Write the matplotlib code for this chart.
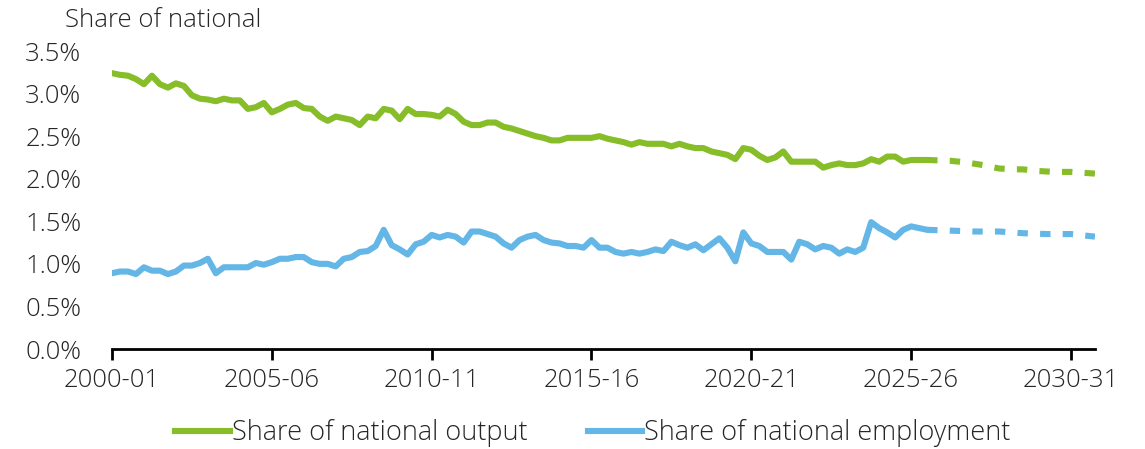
import matplotlib
matplotlib.use('Agg')
import matplotlib.pyplot as plt
from matplotlib.lines import Line2D

plt.rcParams['font.family'] = ['Open Sans', 'DejaVu Sans']
plt.rcParams['font.weight'] = 'light'

# Quarterly observations, index 0 = 2000-01 Q1
output_share = [
    3.24, 3.22, 3.21, 3.17, 3.11, 3.21, 3.11, 3.07, 3.12, 3.09,
    2.98, 2.94, 2.93, 2.91, 2.94, 2.92, 2.92, 2.82, 2.84, 2.89,
    2.78, 2.82, 2.87, 2.89, 2.83, 2.82, 2.73, 2.68, 2.73, 2.71,
    2.69, 2.63, 2.73, 2.71, 2.82, 2.80, 2.70, 2.82, 2.76, 2.76,
    2.75, 2.73, 2.81, 2.76, 2.67, 2.63, 2.63, 2.66, 2.66, 2.61,
    2.59, 2.56, 2.53, 2.50, 2.48, 2.45, 2.45, 2.48, 2.48, 2.48,
    2.48, 2.50, 2.47, 2.45, 2.43, 2.40, 2.43, 2.41, 2.41, 2.41,
    2.38, 2.41, 2.38, 2.36, 2.36, 2.32, 2.30, 2.28, 2.23, 2.36,
    2.34, 2.27, 2.22, 2.25, 2.32, 2.20, 2.20, 2.20, 2.20, 2.13,
    2.16, 2.18, 2.16, 2.16, 2.18, 2.23, 2.20, 2.26, 2.26, 2.20,
    2.22, 2.22, 2.22,
]
employment_share = [
    0.89, 0.91, 0.91, 0.88, 0.96, 0.92, 0.92, 0.88, 0.91, 0.98,
    0.98, 1.01, 1.06, 0.89, 0.96, 0.96, 0.96, 0.96, 1.01, 0.99,
    1.02, 1.06, 1.06, 1.08, 1.08, 1.02, 1.00, 1.00, 0.97, 1.06,
    1.08, 1.14, 1.15, 1.21, 1.40, 1.22, 1.17, 1.11, 1.23, 1.26,
    1.34, 1.31, 1.34, 1.32, 1.25, 1.38, 1.38, 1.35, 1.32, 1.24,
    1.19, 1.28, 1.32, 1.34, 1.28, 1.25, 1.24, 1.21, 1.21, 1.19,
    1.28, 1.19, 1.19, 1.14, 1.12, 1.14, 1.12, 1.14, 1.17, 1.15,
    1.26, 1.22, 1.19, 1.23, 1.16, 1.23, 1.30, 1.19, 1.03, 1.37,
    1.24, 1.21, 1.14, 1.14, 1.14, 1.05, 1.26, 1.23, 1.17, 1.21,
    1.19, 1.12, 1.17, 1.14, 1.19, 1.49, 1.42, 1.37, 1.31, 1.40,
    1.44, 1.42, 1.40,
]

# Projections (quarter index, value)
fc_quarters = [102, 105, 107, 109, 111, 113, 114, 116, 118, 120, 123]
output_fc = [2.22, 2.21, 2.19, 2.16, 2.12, 2.11, 2.11, 2.09, 2.08, 2.08, 2.06]
emp_fc_quarters = [102, 105, 108, 111, 114, 117, 120, 123]
employment_fc = [1.40, 1.39, 1.38, 1.38, 1.36, 1.35, 1.35, 1.32]

tick_labels = ['2000-01', '2005-06', '2010-11', '2015-16', '2020-21', '2025-26', '2030-31']
y_ticks = [0.0, 0.5, 1.0, 1.5, 2.0, 2.5, 3.0, 3.5]

GREEN = '#86bd28'
BLUE = '#63b6e6'
TEXT = '#262626'
LW = 4.4
FS = 18.5

fig = plt.figure(figsize=(11.45, 4.49), dpi=100)
ax = fig.add_axes([0.0978, 0.2227, 0.8585, 0.6637])

ax.plot(range(len(output_share)), output_share, color=GREEN, lw=LW,
        solid_joinstyle='round', solid_capstyle='round')
ax.plot(range(len(employment_share)), employment_share, color=BLUE, lw=LW,
        solid_joinstyle='round', solid_capstyle='round')
ax.plot(fc_quarters, output_fc, color=GREEN, lw=LW, dashes=(1.7, 2.0),
        dash_capstyle='butt')
ax.plot(emp_fc_quarters, employment_fc, color=BLUE, lw=LW, dashes=(1.7, 2.0),
        dash_capstyle='butt')

ax.set_xlim(0, 123)
ax.set_ylim(0, 3.5)
ax.set_xticks([i * 20 for i in range(len(tick_labels))])
ax.set_xticklabels(tick_labels)
ax.set_yticks(y_ticks)
ax.set_yticklabels([f'{v:.1f}%' for v in y_ticks])

for s in ['top', 'right', 'left']:
    ax.spines[s].set_visible(False)
ax.spines['bottom'].set_color('black')
ax.spines['bottom'].set_linewidth(2)
ax.tick_params(axis='x', direction='out', length=8, width=2, color='black',
               labelsize=FS, labelcolor=TEXT, pad=6)
ax.tick_params(axis='y', length=0, labelsize=FS, labelcolor=TEXT, pad=22)

fig.text(0.057, 0.955, 'Share of national', fontsize=FS, color=TEXT, va='center')

handles = [Line2D([], [], color=GREEN, lw=LW),
           Line2D([], [], color=BLUE, lw=LW)]
fig.legend(handles, ['Share of national output', 'Share of national employment'],
           loc='center', bbox_to_anchor=(0.518, 0.035), ncol=2, frameon=False,
           fontsize=19.5, labelcolor=TEXT, handlelength=2.0, handletextpad=0.1,
           columnspacing=2.2)

fig.savefig('out.png', dpi=100)
